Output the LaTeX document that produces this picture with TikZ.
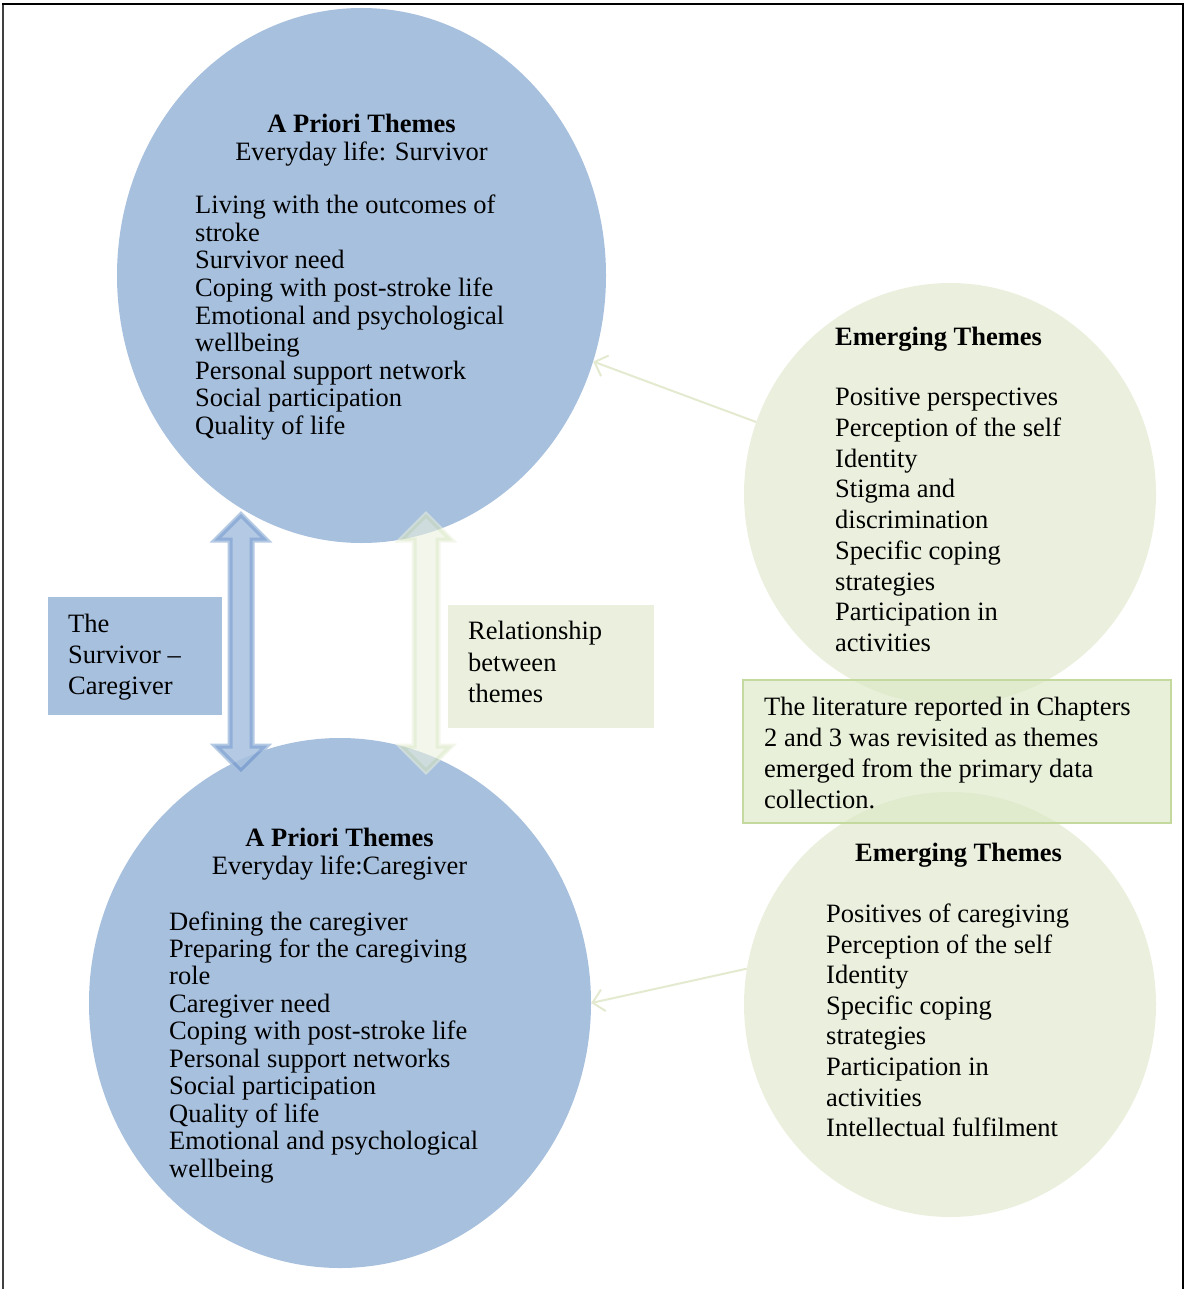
\documentclass[tikz,border=0pt]{standalone}
\usepackage{fontspec}
\setmainfont{Liberation Serif}
\usetikzlibrary{shapes.geometric,arrows.meta}
\definecolor{bluefill}{HTML}{A7C0DE}
\definecolor{greenfill}{HTML}{EBF0DE}
\definecolor{arrowblueedge}{HTML}{7DA0D0}
\definecolor{arrowgreenedge}{HTML}{D6E4BE}
\definecolor{thinarrow}{HTML}{E3EAD0}
\definecolor{litfill}{HTML}{D9E6C0}
\definecolor{litedge}{HTML}{C3D99E}
\begin{document}
\begin{tikzpicture}[x=1pt,y=-1pt,
  txt/.style={anchor=base west, inner sep=0pt, font=\fontsize{26.5}{27.5}\selectfont},
  ctxt/.style={anchor=base, inner sep=0pt, font=\fontsize{26.5}{27.5}\selectfont},
  bluecirc/.style={ellipse, fill=bluefill, inner sep=0pt},
  greencirc/.style={ellipse, fill=greenfill, inner sep=0pt},
  thin/.style={draw=thinarrow, line width=2pt, -{Straight Barb[length=11pt,width=22pt,line width=2pt]}},
  blk/.style={rectangle, inner sep=0pt}
]
\useasboundingbox (0,0) rectangle (1184,1289);

% frame
\draw[line width=2pt, black!75] (3,1290) -- (3,4);
\draw[line width=2pt, black] (2,4) -- (1183,4) -- (1183,1290);

% circles
\node[bluecirc, minimum width=489pt, minimum height=535pt] (a1) at (361.5,275.5) {};
\node[bluecirc, minimum width=502pt, minimum height=530pt] (a2) at (340,1003) {};
\node[greencirc, minimum width=412pt, minimum height=422pt] (e1) at (950,494) {};
\node[greencirc, minimum width=412pt, minimum height=425pt] (e2) at (950,1004.5) {};

% double arrows
\begin{scope}[opacity=0.85, transparency group]
\draw[fill=bluefill, draw=bluefill, line width=7pt, line join=miter]
  (241,516) -- (264,539) -- (251,539) -- (251,747) -- (264,747) -- (241,770)
  -- (218,747) -- (231,747) -- (231,539) -- (218,539) -- cycle;
\draw[draw=arrowblueedge, line width=3pt, line join=miter]
  (241,516) -- (264,539) -- (251,539) -- (251,747) -- (264,747) -- (241,770)
  -- (218,747) -- (231,747) -- (231,539) -- (218,539) -- cycle;
\end{scope}
\begin{scope}[opacity=0.6, transparency group]
\draw[fill=greenfill, draw=greenfill, line width=7pt, line join=miter]
  (426,516) -- (449,539) -- (437,539) -- (437,747) -- (449,747) -- (426,770)
  -- (403,747) -- (415,747) -- (415,539) -- (403,539) -- cycle;
\draw[draw=arrowgreenedge, line width=3pt, line join=miter]
  (426,516) -- (449,539) -- (437,539) -- (437,747) -- (449,747) -- (426,770)
  -- (403,747) -- (415,747) -- (415,539) -- (403,539) -- cycle;
\end{scope}

% boxes
\node[blk, fill=bluefill, minimum width=174pt, minimum height=118pt] (sbox) at (135,656) {};
\node[blk, fill=greenfill, minimum width=206pt, minimum height=123pt] (rbox) at (551,666.5) {};
\node[blk, fill=litfill, fill opacity=0.6, draw=litedge, line width=1.5pt, minimum width=428pt, minimum height=143pt] (lbox) at (957,751.5) {};

% thin arrows
\draw[thin] (e1) -- (a1);
\draw[thin] (e2.170.5) -- (a2.0.5);

% top-left texts
\node[ctxt, font=\fontsize{26.5}{27.5}\selectfont\bfseries] (h1) at (361.5,133) {A Priori Themes};
\node[ctxt] (h1b) at (361.5,161) {Everyday life: Survivor};
\foreach \t [count=\i] in {Living with the outcomes of, stroke, Survivor need, Coping with post-stroke life, Emotional and psychological, wellbeing, Personal support network, Social participation, Quality of life}
  \node[txt, name=tl\i] at (195,{214+27.5*(\i-1)}) {\t};

% bottom-left texts
\node[ctxt, font=\fontsize{26.5}{27.5}\selectfont\bfseries] (h2) at (339.5,846) {A Priori Themes};
\node[ctxt] (h2b) at (339.5,874) {Everyday life:Caregiver};
\foreach \t [count=\i] in {Defining the caregiver, Preparing for the caregiving, role, Caregiver need, Coping with post-stroke life, Personal support networks, Social participation, Quality of life, Emotional and psychological, wellbeing}
  \node[txt, name=bl\i] at (169,{930+27.45*(\i-1)}) {\t};

% top-right texts
\node[txt, font=\fontsize{26.5}{27.5}\selectfont\bfseries] (h3) at (835,345.5) {Emerging Themes};
\foreach \t [count=\i] in {Positive perspectives, Perception of the self, Identity, Stigma and, discrimination, Specific coping, strategies, Participation in, activities}
  \node[txt, name=tr\i] at (835,{405.5+30.75*(\i-1)}) {\t};

% bottom-right texts
\node[txt, font=\fontsize{26.5}{27.5}\selectfont\bfseries] (h4) at (855,861.5) {Emerging Themes};
\foreach \t [count=\i] in {Positives of caregiving, Perception of the self, Identity, Specific coping, strategies, Participation in, activities, Intellectual fulfilment}
  \node[txt, name=br\i] at (826,{922.5+30.6*(\i-1)}) {\t};

% box texts
\foreach \t [count=\i] in {The, Survivor –, Caregiver}
  \node[txt, name=s\i] at (68,{632.5+31*(\i-1)}) {\t};
\foreach \t [count=\i] in {Relationship, between, themes}
  \node[txt, name=r\i] at (468,{639.5+31.5*(\i-1)}) {\t};
\foreach \t [count=\i] in {The literature reported in Chapters, 2 and 3 was revisited as themes, emerged from the primary data, collection.}
  \node[txt, name=l\i] at (764,{715.5+31*(\i-1)}) {\t};
\end{tikzpicture}
\end{document}
